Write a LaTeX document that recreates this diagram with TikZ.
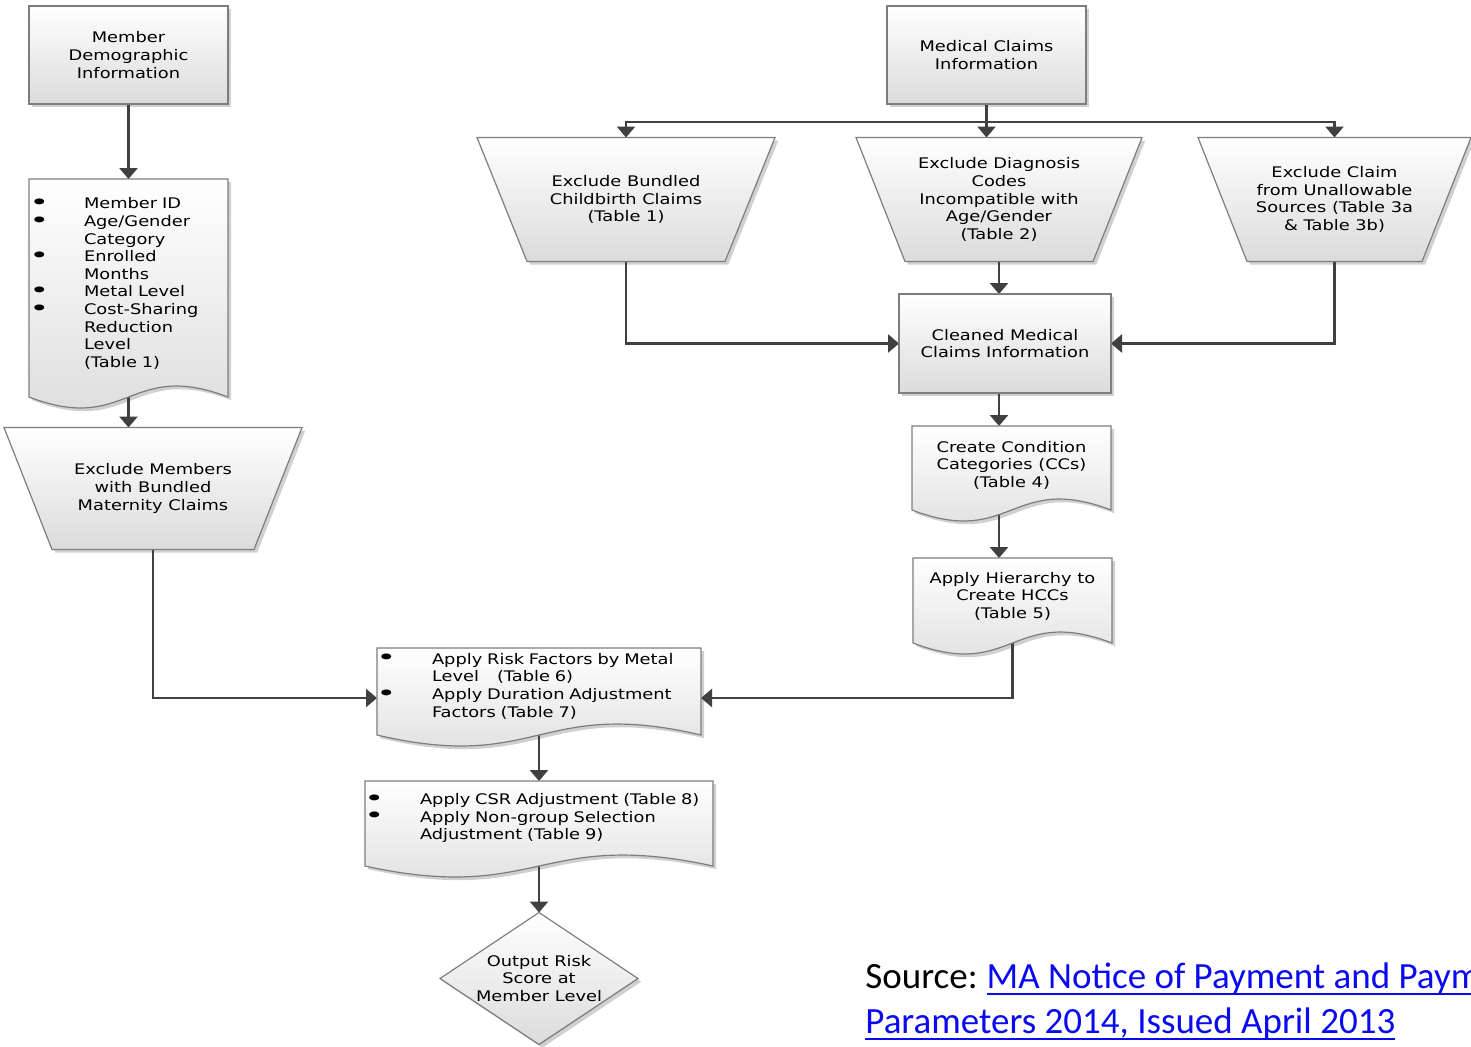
\documentclass[tikz,border=0pt]{standalone}
\usepackage{fontspec}
\usepackage{graphicx}
\setmainfont{DejaVu Sans}[FakeStretch=1.22]
\newfontfamily\srcfont{Carlito}
\usetikzlibrary{calc,arrows.meta}
\pgfdeclarelayer{shadowlayer}
\pgfdeclarelayer{wirelayer}
\pgfdeclarelayer{facelayer}
\pgfsetlayers{shadowlayer,wirelayer,facelayer,main}
\definecolor{lnk}{RGB}{10,10,240}
\definecolor{cline}{RGB}{64,64,64}
\definecolor{edge}{RGB}{125,125,125}
\definecolor{shd}{RGB}{208,208,208}
\newcommand\PX{0.5pt}
\newcommand\bdot{\raisebox{-0.35pt}{\scalebox{1.9}[1.4]{\textbullet}}}
\newcommand\bl[2][24.5pt]{\makebox[#1][l]{\hspace*{-2.8pt}\bdot}#2}
\newcommand\ind[2][24.5pt]{\hspace*{#1}#2}
\newsavebox\ulbox
\newcommand\lnkul[1]{\sbox\ulbox{#1}\rlap{\rule[-3.4pt]{\wd\ulbox}{0.95pt}}\usebox\ulbox}
\newcommand\rectp[1]{(#1.north west) rectangle (#1.south east)}
\newcommand\trapp[2]{(#1.north west) -- (#1.north east) -- ($(#1.south east)+(-#2,0)$) -- ($(#1.south west)+(#2,0)$) -- cycle}
\newcommand\docp[1]{(#1.north west) -- (#1.north east) -- (#1.south east) .. controls ($(#1.south)+(0,-38)$) and ($(#1.south)+(0,38)$) .. (#1.south west) -- cycle}
\newcommand\diap[1]{(#1.north) -- (#1.east) -- (#1.south) -- (#1.west) -- cycle}
\newcommand\allshapes[1]{%
  \path[#1] \rectp{demo};
  \path[#1] \docp{bulA};
  \path[#1] \trapp{trapA}{48};
  \path[#1] \rectp{med};
  \path[#1] \trapp{trapB}{50};
  \path[#1] \trapp{trapC}{49};
  \path[#1] \trapp{trapD}{49};
  \path[#1] \rectp{clean};
  \path[#1] \docp{ccat};
  \path[#1] \docp{hier};
  \path[#1] \docp{risk};
  \path[#1] \docp{csr};
  \path[#1] \diap{out};
}
\tikzset{
  geo/.style={draw=none, inner sep=0pt, outer sep=0pt, font=\fontsize{7.3}{8.8}\selectfont, align=center},
  txt/.style={inner sep=0pt, font=\fontsize{7.3}{8.8}\selectfont, align=left},
  face/.style={draw=edge, line width=0.6pt, top color=white, bottom color=black!14},
  shadowfill/.style={fill=shd},
  wire/.style={draw=cline, line width=1.35pt},
  flow/.style={wire, -{Triangle[length=5.5pt,width=9pt]}},
}
\begin{document}
\begin{tikzpicture}[x=0.5pt,y=-0.5pt]
\useasboundingbox (0,0) rectangle (1471,1046);
\clip (0,0) rectangle (1471,1046);

% geometry / text nodes
\node[geo, minimum width=199*\PX, minimum height=98*\PX] (demo) at (128.5,55) {Member\\Demographic\\Information};
\node[geo, minimum width=199*\PX, minimum height=218*\PX] (bulA) at (128.5,288) {};
\node[txt, text width=187*\PX] (bulAt) at (128.5,283.5) {\bl{Member ID}\\\bl{Age/Gender}\\\ind{Category}\\\bl{Enrolled}\\\ind{Months}\\\bl{Metal Level}\\\bl{Cost-Sharing}\\\ind{Reduction}\\\ind{Level}\\\ind{(Table 1)}};
\node[geo, minimum width=298*\PX, minimum height=122*\PX] (trapA) at (153,488.5) {Exclude Members\\with Bundled\\Maternity Claims};
\node[geo, minimum width=199*\PX, minimum height=98*\PX] (med) at (986.5,55) {Medical Claims\\Information};
\node[geo, minimum width=298*\PX, minimum height=124*\PX] (trapB) at (626,199.5) {Exclude Bundled\\Childbirth Claims\\(Table 1)};
\node[geo, minimum width=286*\PX, minimum height=124*\PX] (trapC) at (999,199.5) {Exclude Diagnosis\\Codes\\Incompatible with\\Age/Gender\\(Table 2)};
\node[geo, minimum width=273*\PX, minimum height=124*\PX] (trapD) at (1334.5,199.5) {Exclude Claim\\from Unallowable\\Sources (Table 3a\\\& Table 3b)};
\node[geo, minimum width=212*\PX, minimum height=99*\PX] (clean) at (1005,343.5) {Cleaned Medical\\Claims Information};
\node[geo, minimum width=199*\PX, minimum height=84*\PX] (ccat) at (1011.5,468) {};
\node[txt, align=center] (ccatt) at (1011.5,465) {Create Condition\\Categories (CCs)\\(Table 4)};
\node[geo, minimum width=199*\PX, minimum height=85*\PX] (hier) at (1012.5,600.5) {};
\node[txt, align=center] (hiert) at (1012.5,596) {Apply Hierarchy to\\Create HCCs\\(Table 5)};
\node[geo, minimum width=324*\PX, minimum height=87*\PX] (risk) at (539,691.5) {};
\node[txt, text width=314*\PX] (riskt) at (539,686) {\bl[25pt]{Apply Risk Factors by Metal}\\\ind[25pt]{Level\hspace{9pt}(Table 6)}\\\bl[25pt]{Apply Duration Adjustment}\\\ind[25pt]{Factors (Table 7)}};
\node[geo, minimum width=348*\PX, minimum height=85*\PX] (csr) at (539,823.5) {};
\node[txt, text width=338*\PX] (csrt) at (539,818) {\bl[25pt]{Apply CSR Adjustment (Table 8)}\\\bl[25pt]{Apply Non-group Selection}\\\ind[25pt]{Adjustment (Table 9)}};
\node[geo, minimum width=198*\PX, minimum height=132*\PX] (out) at (539,978.5) {Output Risk\\Score at\\Member Level};

% shapes
\begin{pgfonlayer}{shadowlayer}
  \begin{scope}[transform canvas={shift={(1.6pt,-1.6pt)}}]
    \allshapes{shadowfill}
  \end{scope}
\end{pgfonlayer}
\begin{pgfonlayer}{facelayer}
  \allshapes{face}
\end{pgfonlayer}

% connectors
\begin{pgfonlayer}{wirelayer}
\draw[flow] (demo.south) -- (bulA.north);
\draw[flow] (bulA.south) -- (bulA.south |- trapA.north);
\draw[flow] (trapA.south) |- ([yshift=-3.25pt]risk.west);
\coordinate (bus) at ($(med.south)+(0,18)$);
\draw[flow] (med.south) -- (med.south |- trapC.north);
\draw[flow] (bus) -| (trapB.north);
\draw[flow] (bus) -| (trapD.north);
\draw[flow] (trapB.south) |- (clean.west);
\draw[flow] (trapD.south) |- (clean.east);
\draw[flow] (trapC.south) -- (trapC.south |- clean.north);
\draw[flow] (clean.south -| trapC.south) -- (ccat.north -| trapC.south);
\draw[flow] (ccat.south -| trapC.south) -- (hier.north -| trapC.south);
\draw[flow] (hier.south) |- ([yshift=-3.25pt]risk.east);
\draw[flow] (risk.south) -- (csr.north);
\draw[flow] (csr.south) -- (out.north);
\end{pgfonlayer}

% source
\node[anchor=base west, inner sep=0pt, font=\srcfont\fontsize{18.5}{22}\selectfont] (src1) at (865,988) {Source:\hspace{4.5pt}\textcolor{lnk}{\lnkul{MA Notice of Payment and Payment}}};
\node[anchor=base west, inner sep=0pt, font=\srcfont\fontsize{18.5}{22}\selectfont] (src2) at (865,1033) {\textcolor{lnk}{\lnkul{Parameters 2014, Issued April 2013}}};
\end{tikzpicture}
\end{document}
